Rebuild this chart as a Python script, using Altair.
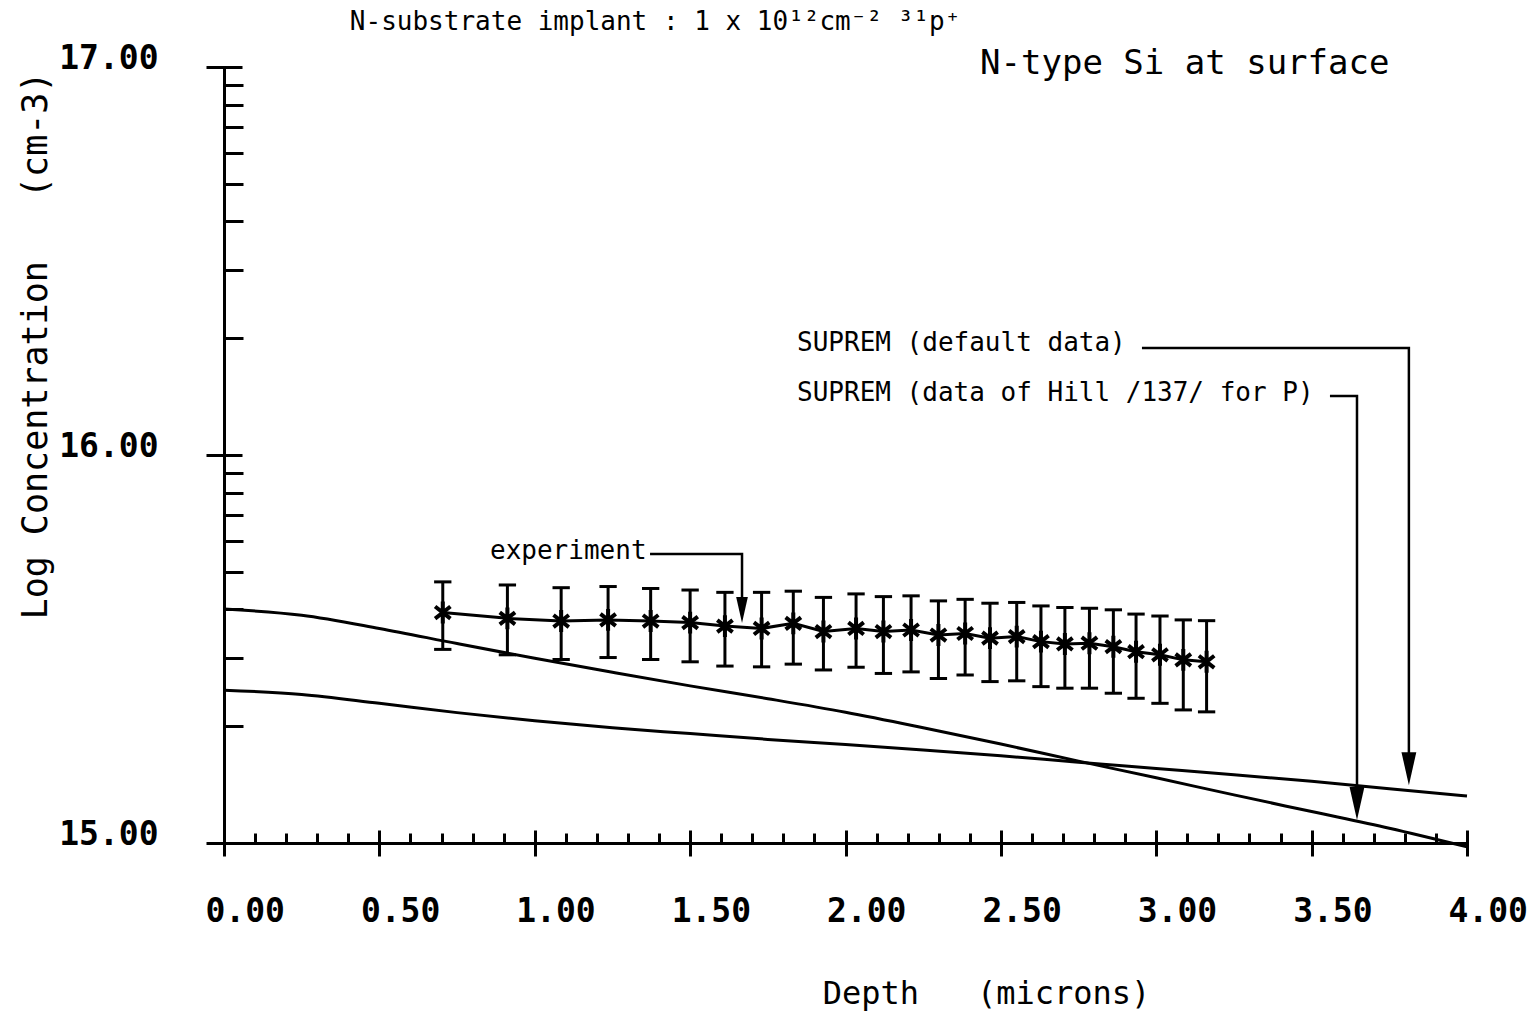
import altair as alt
import numpy as np
import pandas as pd

# ---- SUPREM simulated profiles (log10 concentration vs depth in microns) ----
sim_depth = [0.00, 0.25, 0.50, 0.75, 1.00, 1.25, 1.50, 1.75, 2.00,
             2.25, 2.50, 2.75, 3.00, 3.25, 3.50, 3.75, 4.00]
sim_default = [15.394, 15.383, 15.360, 15.336, 15.315, 15.297, 15.282, 15.267, 15.254,
               15.240, 15.225, 15.208, 15.192, 15.176, 15.159, 15.140, 15.121]
sim_hill = [15.603, 15.587, 15.553, 15.514, 15.476, 15.440, 15.405, 15.372, 15.337,
            15.297, 15.255, 15.211, 15.168, 15.124, 15.081, 15.038, 14.990]

# ---- measured profile with error limits ----
exp_depth = [0.704, 0.912, 1.085, 1.236, 1.373, 1.500, 1.612, 1.730, 1.832, 1.929,
             2.034, 2.122, 2.211, 2.299, 2.385, 2.465, 2.551, 2.629, 2.706, 2.785,
             2.862, 2.935, 3.012, 3.087, 3.162]
exp_logc = [15.594, 15.579, 15.572, 15.575, 15.572, 15.568, 15.559, 15.553, 15.566, 15.545,
            15.553, 15.545, 15.549, 15.536, 15.540, 15.528, 15.532, 15.519, 15.513, 15.515,
            15.506, 15.493, 15.485, 15.472, 15.467]
exp_upper = [15.673, 15.665, 15.658, 15.661, 15.656, 15.652, 15.646, 15.646, 15.649, 15.633,
             15.642, 15.635, 15.637, 15.624, 15.628, 15.618, 15.620, 15.611, 15.607, 15.605,
             15.601, 15.590, 15.585, 15.575, 15.573]
exp_lower = [15.499, 15.485, 15.473, 15.478, 15.473, 15.467, 15.456, 15.454, 15.461, 15.446,
             15.453, 15.437, 15.441, 15.424, 15.433, 15.416, 15.418, 15.403, 15.399, 15.399,
             15.386, 15.373, 15.360, 15.343, 15.338]

# ---- axis ticks ----
x_major = [0.0, 0.5, 1.0, 1.5, 2.0, 2.5, 3.0, 3.5, 4.0]
x_minor = [round(0.1 * i, 1) for i in range(41) if i % 5 != 0]
y_major = [15, 16, 17]
y_minor = [float(d + np.log10(k)) for d in (15, 16) for k in range(2, 10)]

# ---- annotations ----
note_text = ["experiment", "SUPREM (default data)", "SUPREM (data of Hill /137/ for P)"]
note_x = [0.856, 1.844, 1.844]
note_y = [15.752, 16.289, 16.160]

leader_id = [0, 0, 0, 1, 1, 1, 2, 2, 2]
leader_step = [0, 1, 2, 0, 1, 2, 0, 1, 2]
leader_x = [1.371, 1.667, 1.667, 2.954, 3.813, 3.813, 3.559, 3.646, 3.646]
leader_y = [15.745, 15.745, 15.600, 16.276, 16.276, 15.190, 16.152, 16.152, 15.100]

tip_x = [1.667, 3.813, 3.646]
tip_y = [15.567, 15.149, 15.059]
tip_size = [676, 1089, 1089]

header_text = ["N-substrate implant : 1 x 10\u00b9\u00b2cm\u207b\u00b2 \u00b3\u00b9p\u207a",
               "N-type Si at surface"]
header_x = [0.405, 2.433]
header_y = [17.116, 17.008]
header_size = [26, 34]

FONT = "DejaVu Sans Mono"
W, H = 1243, 776

sim = pd.DataFrame({"depth": sim_depth, "default": sim_default, "hill": sim_hill})
exp = pd.DataFrame({"depth": exp_depth, "logc": exp_logc,
                    "upper": exp_upper, "lower": exp_lower})
notes = pd.DataFrame({"text": note_text, "x": note_x, "y": note_y})
leaders = pd.DataFrame({"id": leader_id, "step": leader_step,
                        "x": leader_x, "y": leader_y})
tips = pd.DataFrame({"x": tip_x, "y": tip_y, "s": tip_size})
headers = pd.DataFrame({"text": header_text, "x": header_x,
                        "y": header_y, "fs": header_size})

x_scale = alt.Scale(domain=[0, 4], nice=False, zero=False)
y_scale = alt.Scale(domain=[15, 17], nice=False, zero=False)


def X(field, axis=None):
    return alt.X(field, type="quantitative", scale=x_scale, axis=axis)


def Y(field, axis=None):
    return alt.Y(field, type="quantitative", scale=y_scale, axis=axis)


# main axes: domain lines, labels and titles
x_main = alt.Axis(orient="bottom", values=x_major, format=".2f", ticks=False,
                  domain=True, domainColor="black", domainWidth=3, grid=False,
                  labelFont=FONT, labelFontSize=33, labelFontWeight="bold",
                  labelColor="black", labelAlign="left", labelBaseline="top",
                  labelOffset=-19, labelPadding=52, labelFlush=False,
                  labelOverlap=False, labelBound=False,
                  title="Depth\u00a0\u00a0\u00a0(microns)", titleFont=FONT,
                  titleFontSize=32, titleFontWeight="normal", titleColor="black",
                  titleX=762, titleY=150, titleAlign="center",
                  titleBaseline="middle")
y_main = alt.Axis(orient="left", values=y_major, format=".2f", ticks=False,
                  domain=True, domainColor="black", domainWidth=3, grid=False,
                  labelFont=FONT, labelFontSize=33, labelFontWeight="bold",
                  labelColor="black", labelAlign="right", labelBaseline="middle",
                  labelOffset=-9, labelPadding=66, labelFlush=False,
                  labelOverlap=False, labelBound=False,
                  title="Log Concentration\u00a0\u00a0\u00a0(cm-3)", titleFont=FONT,
                  titleFontSize=35, titleFontWeight="normal", titleColor="black",
                  titleAngle=270, titleX=-189, titleY=278, titleAlign="center",
                  titleBaseline="middle")

# minor ticks pointing into the plot
x_minor_ax = alt.Axis(orient="bottom", values=x_minor, offset=-10, tickSize=10,
                      tickWidth=3, tickColor="black", domain=False, labels=False,
                      grid=False, title=None)
y_minor_ax = alt.Axis(orient="left", values=y_minor, offset=-19, tickSize=19,
                      tickWidth=3, tickColor="black", domain=False, labels=False,
                      grid=False, title=None)

# major ticks crossing the axis line
x_major_ax = alt.Axis(orient="bottom", values=x_major, offset=-13, tickSize=26,
                      tickWidth=3, tickColor="black", domain=False, labels=False,
                      grid=False, title=None)
y_major_ax = alt.Axis(orient="left", values=y_major, offset=-18, tickSize=36,
                      tickWidth=3, tickColor="black", domain=False, labels=False,
                      grid=False, title=None)

default_line = alt.Chart(sim).mark_line(
    color="black", strokeWidth=3, interpolate="monotone"
).encode(x=X("depth", x_main), y=Y("default", y_main))

hill_line = alt.Chart(sim).mark_line(
    color="black", strokeWidth=3, interpolate="monotone"
).encode(x=X("depth", x_minor_ax), y=Y("hill", y_minor_ax))

exp_line = alt.Chart(exp).mark_line(
    color="black", strokeWidth=3
).encode(x=X("depth", x_major_ax), y=Y("logc", y_major_ax))

exp_bars = alt.Chart(exp).mark_rule(color="black", strokeWidth=3).encode(
    x=X("depth"), y=Y("lower"), y2="upper"
)

cap = "M-1,0L1,0"
cap_hi = alt.Chart(exp).mark_point(
    shape=cap, size=300, filled=False, stroke="black", strokeWidth=3, opacity=1
).encode(x=X("depth"), y=Y("upper"))
cap_lo = alt.Chart(exp).mark_point(
    shape=cap, size=300, filled=False, stroke="black", strokeWidth=3, opacity=1
).encode(x=X("depth"), y=Y("lower"))

star = "M0,-1L0,1M-0.7,-0.55L0.7,0.55M-0.7,0.55L0.7,-0.55"
exp_marks = alt.Chart(exp).mark_point(
    shape=star, size=480, filled=False, stroke="black", strokeWidth=4, opacity=1
).encode(x=X("depth"), y=Y("logc"))

leader_lines = alt.Chart(leaders).mark_line(color="black", strokeWidth=2.5).encode(
    x=X("x"), y=Y("y"), detail="id:N", order="step:Q"
)

arrow = "M-0.45,-2L0.45,-2L0,0Z"
arrow_heads = alt.Chart(tips).mark_point(
    shape=arrow, filled=True, color="black", opacity=1, strokeWidth=0
).encode(x=X("x"), y=Y("y"), size=alt.Size("s:Q", scale=None))

note_labels = alt.Chart(notes).mark_text(
    font=FONT, fontSize=26, align="left", baseline="middle", color="black"
).encode(x=X("x"), y=Y("y"), text="text:N")

header_labels = alt.Chart(headers).mark_text(
    font=FONT, align="left", baseline="middle", color="black"
).encode(x=X("x"), y=Y("y"), text="text:N",
         size=alt.Size("fs:Q", scale=None))

chart = alt.layer(
    default_line, hill_line, exp_line, exp_bars, cap_hi, cap_lo, exp_marks,
    leader_lines, arrow_heads, note_labels, header_labels
).resolve_axis(
    x="independent", y="independent"
).properties(
    width=W, height=H,
    padding={"left": 224, "top": 67, "right": 68, "bottom": 170},
    autosize=alt.AutoSizeParams(type="none"),
    background="white",
).configure_view(stroke=None)

chart.save("out.html", embed_options={"renderer": "svg", "actions": False})
